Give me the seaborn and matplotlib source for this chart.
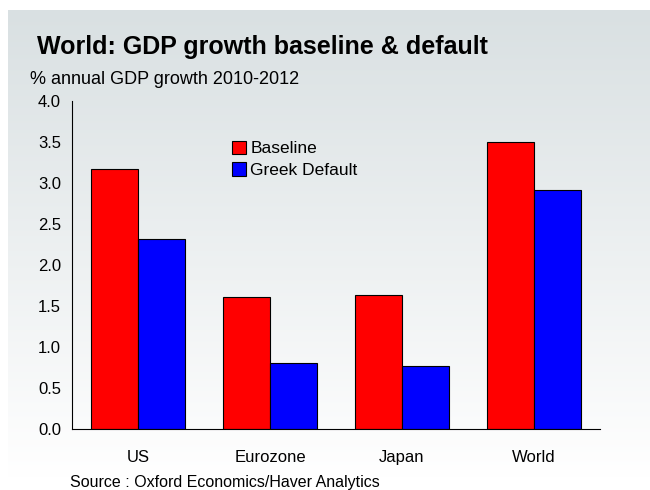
import numpy as np
import pandas as pd
import matplotlib
matplotlib.use("Agg")
import matplotlib.pyplot as plt
from matplotlib.colors import LinearSegmentedColormap
from matplotlib.patches import Patch
import seaborn as sns

# data
regions = ["US", "Eurozone", "Japan", "World"]
baseline = [3.17, 1.61, 1.64, 3.50]
greek_default = [2.32, 0.80, 0.77, 2.91]
series_names = ["Baseline", "Greek Default"]

df = pd.DataFrame({
    "region": regions * 2,
    "growth": baseline + greek_default,
    "scenario": [series_names[0]] * 4 + [series_names[1]] * 4,
})

sns.set_style("white")
plt.rcParams["font.family"] = ["Liberation Sans", "DejaVu Sans"]
plt.rcParams["text.color"] = "black"
plt.rcParams["xtick.color"] = "black"
plt.rcParams["ytick.color"] = "black"

fig = plt.figure(figsize=(6.5, 4.9), dpi=100)
fig.patch.set_facecolor("white")

# grey-to-white gradient panel behind everything
bg = fig.add_axes([8 / 650, 12 / 490, 1 - 8 / 650, 468 / 490], zorder=-10)
grad = np.linspace(0, 1, 256).reshape(-1, 1)
cmap = LinearSegmentedColormap.from_list("bg", ["#d9e0e2", "#ffffff"])
bg.imshow(grad, aspect="auto", cmap=cmap, extent=[0, 1, 0, 1])
bg.axis("off")

ax = fig.add_axes([72 / 650, 1 - 429 / 490, 528 / 650, 328 / 490])
ax.patch.set_alpha(0)

sns.barplot(data=df, x="region", y="growth", hue="scenario",
            palette=["#ff0000", "#0000ff"], saturation=1, width=0.71, gap=0,
            edgecolor="black", linewidth=0.8, ax=ax, legend=False)

ax.set_ylim(0, 4.0)
ax.set_yticks(np.arange(0, 4.01, 0.5))
ax.set_yticklabels([f"{v:.1f}" for v in np.arange(0, 4.01, 0.5)], fontsize=12)
ax.set_xlim(-0.5, 3.5)
ax.set_xticks(range(4))
ax.set_xticklabels(regions, fontsize=12)
ax.set_xticks(np.arange(-0.5, 3.6, 1), minor=True)
ax.tick_params(axis="x", which="major", length=0, pad=15)
ax.tick_params(axis="x", which="minor", length=5, width=0.8, direction="out")
ax.tick_params(axis="y", length=5, width=0.8, direction="out", pad=3)
ax.set_xlabel("")
ax.set_ylabel("")
for s in ["top", "right"]:
    ax.spines[s].set_visible(False)
for s in ["left", "bottom"]:
    ax.spines[s].set_color("black")
    ax.spines[s].set_linewidth(0.8)

handles = [Patch(facecolor=c, edgecolor="black", linewidth=0.8)
           for c in ["#ff0000", "#0000ff"]]
ax.legend(handles, series_names, loc="upper left", bbox_to_anchor=(0.29, 0.90),
          frameon=False, fontsize=12.5, handlelength=0.8, handleheight=0.8,
          handletextpad=0.25, labelspacing=0.35, borderaxespad=0)

fig.text(37 / 650, 1 - 47 / 490, "World: GDP growth baseline & default",
         fontsize=18, fontweight="bold", va="center")
fig.text(30 / 650, 1 - 80 / 490, "% annual GDP growth 2010-2012",
         fontsize=13, va="center")
fig.text(70 / 650, 1 - 482 / 490, "Source : Oxford Economics/Haver Analytics",
         fontsize=11.5, va="center")

fig.savefig("out.png", dpi=100)
